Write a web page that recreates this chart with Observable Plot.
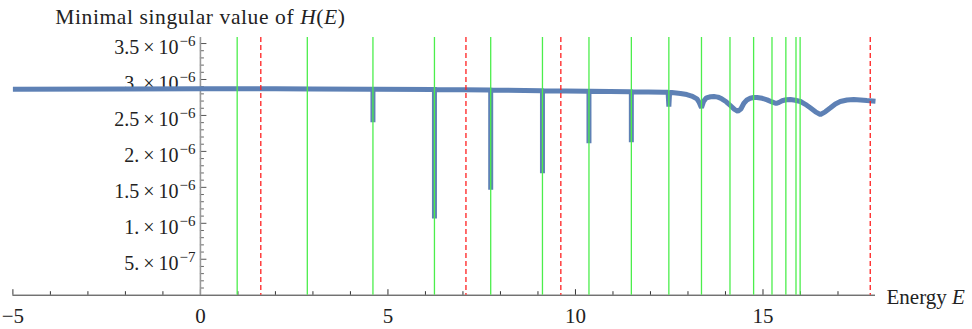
<!DOCTYPE html>
<html><head><meta charset="utf-8">
<script src="https://cdn.jsdelivr.net/npm/d3@7"></script>
<script src="https://cdn.jsdelivr.net/npm/@observablehq/plot@0.6"></script>
<style>html,body{margin:0;padding:0;background:#fff;} #chart svg{display:block;}</style>
</head><body><div id="chart"></div>
<script>
// Curve: energy E and minimal singular value (units of 1e-6)
const curveE = [-5, -2, 0, 2, 3, 4.5,
  4.6, 4.6, 4.6, 4.7, 6.2,
  6.24, 6.24, 6.24, 6.3, 7.7,
  7.74, 7.74, 7.74, 7.8, 9.08,
  9.12, 9.12, 9.12, 9.16, 10.32,
  10.36, 10.36, 10.36, 10.4, 11.45,
  11.49, 11.49, 11.49, 11.53, 12.35,
  12.47, 12.49, 12.51, 12.57, 12.8, 12.97, 13.1, 13.24, 13.3, 13.36, 13.42, 13.49,
  13.6, 13.69, 13.8, 13.9, 14.02, 14.13, 14.24, 14.33, 14.41, 14.49, 14.57, 14.66,
  14.75, 14.84, 14.98, 15.11, 15.24, 15.35, 15.43, 15.51, 15.62, 15.73, 15.86, 16.0,
  16.13, 16.26, 16.4, 16.53, 16.66, 16.8, 16.93, 17.06, 17.24, 17.42, 17.6, 17.77, 18];
const curveV = [2.866, 2.868, 2.870, 2.870, 2.869, 2.866,
  2.866, 2.406, 2.866, 2.866, 2.862,
  2.862, 1.067, 2.862, 2.861, 2.853,
  2.853, 1.466, 2.853, 2.852, 2.843,
  2.843, 1.697, 2.843, 2.842, 2.835,
  2.835, 2.114, 2.835, 2.835, 2.829,
  2.829, 2.127, 2.829, 2.828, 2.824,
  2.822, 2.624, 2.820, 2.819, 2.806, 2.791, 2.770, 2.731, 2.680, 2.606, 2.700, 2.745,
  2.760, 2.763, 2.755, 2.731, 2.690, 2.638, 2.585, 2.559, 2.590, 2.670, 2.715, 2.740,
  2.750, 2.750, 2.738, 2.717, 2.688, 2.666, 2.682, 2.704, 2.718, 2.722, 2.712, 2.694,
  2.655, 2.606, 2.550, 2.513, 2.550, 2.606, 2.660, 2.694, 2.715, 2.722, 2.716, 2.708, 2.698];
const greenE = [0.98, 2.85, 4.60, 6.24, 7.74, 9.12, 10.36, 11.49, 12.49, 13.36, 14.12, 14.75, 15.24, 15.61, 15.88, 15.99];
const redE = [1.61, 7.08, 9.61, 17.86];
const xMajor = [-5, 0, 5, 10, 15];
const xMajorLabels = ["\u22125", "0", "5", "10", "15"];
const xMinor = [-4, -3, -2, -1, 1, 2, 3, 4, 6, 7, 8, 9, 11, 12, 13, 14, 16, 17];
const yMajor = [5e-7, 1e-6, 1.5e-6, 2e-6, 2.5e-6, 3e-6, 3.5e-6];
const yMant = ["5.", "1.", "1.5", "2.", "2.5", "3.", "3.5"];
const yExp = ["\u22127", "\u22126", "\u22126", "\u22126", "\u22126", "\u22126", "\u22126"];
const yMinor = d3.range(1, 35).filter(k => k % 5 !== 0).map(k => k * 1e-7);
const titleText = "Minimal singular value of H(E)";
const xLabelText = "Energy E";

const curve = curveE.map((e, i) => ({E: e, v: curveV[i] * 1e-6}));
const yLab = yMajor.map((v, i) => ({v, label: yMant[i] + "\u2009\u00d7\u200910^" + yExp[i]}));
const xLab = xMajor.map((v, i) => ({v, label: xMajorLabels[i]}));

const font = "'Liberation Serif'";

const svg = Plot.plot({
  width: 972, height: 329,
  marginLeft: 12.4, marginRight: 97, marginTop: 37, marginBottom: 34.3,
  style: {fontFamily: "'Liberation Serif', serif"},
  x: {domain: [-5, 18], axis: null},
  y: {domain: [0, 3.584e-6], axis: null},
  marks: [
    Plot.ruleY(yMinor, {y: d => d, x1: 0, x2: 0, insetRight: -4, stroke: "#666", strokeWidth: 1}),
    Plot.ruleY(yMajor, {y: d => d, x1: 0, x2: 0, insetRight: -6.5, stroke: "#555", strokeWidth: 1}),
    Plot.ruleX(xMinor, {x: d => d, y1: 0, y2: 0, insetTop: -3.5, stroke: "#333", strokeWidth: 1}),
    Plot.ruleX(xMajor, {x: d => d, y1: 0, y2: 0, insetTop: -5.5, stroke: "#333", strokeWidth: 1}),
    Plot.ruleY([0], {stroke: "#333", strokeWidth: 1}),
    Plot.ruleX([0], {stroke: "#999", strokeWidth: 1.6}),
    Plot.text(yLab, {x: 0, y: "v", text: "label", textAnchor: "end", dx: -5, dy: 4, fontSize: 20, fontFamily: font, fill: "#222"}),
    Plot.text(xLab, {x: "v", y: 0, text: "label", dy: 21.5, fontSize: 21, fontFamily: font, fill: "#222"}),
    Plot.line(curve, {x: "E", y: "v", stroke: "#5e81b5", strokeWidth: 5, strokeLinejoin: "miter", strokeLinecap: "butt"}),
    Plot.ruleX(greenE, {stroke: "#4cee4c", strokeWidth: 1.3}),
    Plot.ruleX(redE, {stroke: "#ff2020", strokeWidth: 1.3, strokeDasharray: "5,3"}),
    Plot.text([xLabelText], {x: 18, y: 0, text: d => d, textAnchor: "start", lineAnchor: "middle", dx: 11, dy: 2.2, fontSize: 21, fontFamily: font, fill: "#222"}),
    Plot.text([titleText], {x: 0, frameAnchor: "top", lineAnchor: "middle", text: d => d, dy: -20, fontSize: 21.5, fontFamily: font, fill: "#222"})
  ]
});

const ns = "http://www.w3.org/2000/svg";
function rich(t, parts) {
  t.textContent = "";
  for (const p of parts) {
    const ts = document.createElementNS(ns, "tspan");
    ts.textContent = p.t;
    if (p.i) ts.setAttribute("font-style", "italic");
    if (p.sup) { ts.setAttribute("font-size", "15"); ts.setAttribute("dy", "-8"); ts.setAttribute("dx", "1"); }
    t.appendChild(ts);
  }
}
svg.querySelectorAll("text").forEach(t => {
  const s = t.textContent;
  if (s === titleText) {
    t.setAttribute("letter-spacing", "0.6");
    rich(t, [{t: "Minimal singular value of "}, {t: "H", i: true}, {t: "("}, {t: "E", i: true}, {t: ")"}]);
  } else if (s === xLabelText) {
    rich(t, [{t: "Energy "}, {t: "E", i: true}]);
  } else if (s.includes("^")) {
    const [a, b] = s.split("^");
    rich(t, [{t: a}, {t: b, sup: true}]);
  }
});
document.getElementById("chart").appendChild(svg);
</script>
</body></html>
